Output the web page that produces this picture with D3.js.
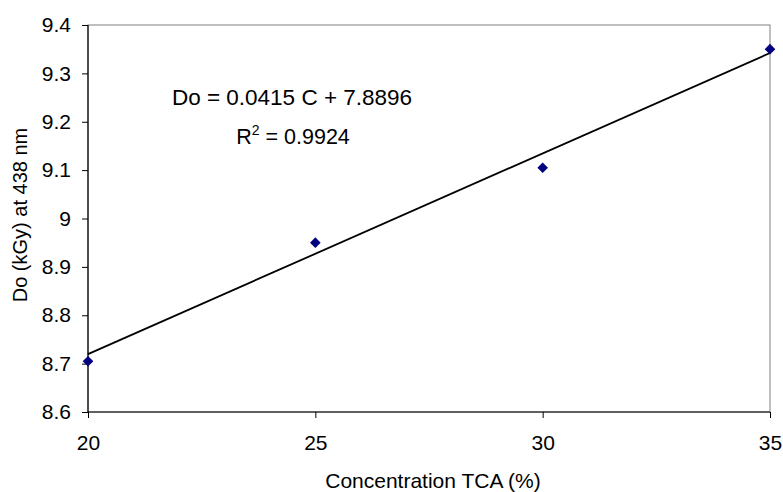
<!DOCTYPE html>
<html>
<head>
<meta charset="utf-8">
<script src="https://cdn.jsdelivr.net/npm/d3@7"></script>
<style>
  body { margin: 0; background: #fff; }
  svg text { font-family: "Liberation Sans", Arial, sans-serif; fill: #000; }
</style>
</head>
<body>
<svg id="chart"></svg>
<script>
// data
const concentration = [20, 25, 30, 35];
const doseValues = [8.705, 8.95, 9.105, 9.35];
const xTicks = [20, 25, 30, 35];
const yTicks = [8.6, 8.7, 8.8, 8.9, 9.0, 9.1, 9.2, 9.3, 9.4];
const slope = 0.0415;
const intercept = 7.8896;

const width = 783;
const height = 492;
const plot = { left: 88, top: 25, right: 770, bottom: 412 };

const svg = d3.select('#chart')
    .attr('width', width)
    .attr('height', height);

const xScale = d3.scaleLinear()
    .domain([20, 35])
    .range([plot.left, plot.right]);

const yScale = d3.scaleLinear()
    .domain([8.6, 9.4])
    .range([plot.bottom, plot.top]);

// plot area border (grey, top + right)
svg.append('rect')
    .attr('x', plot.left)
    .attr('y', plot.top)
    .attr('width', plot.right - plot.left)
    .attr('height', plot.bottom - plot.top)
    .attr('fill', 'none')
    .attr('stroke', '#808080')
    .attr('stroke-width', 1);

// y axis
const yAxis = svg.append('g')
    .attr('transform', `translate(${plot.left},0)`)
    .call(d3.axisLeft(yScale)
        .tickValues(yTicks)
        .tickSize(6)
        .tickPadding(11)
        .tickFormat(d => d3.format('')(+d.toFixed(1))));

// x axis
const xAxis = svg.append('g')
    .attr('transform', `translate(0,${plot.bottom})`)
    .call(d3.axisBottom(xScale)
        .tickValues(xTicks)
        .tickSize(6)
        .tickPadding(17)
        .tickFormat(d3.format('d')));

[yAxis, xAxis].forEach(ax => {
    ax.select('.domain').attr('stroke', '#000').attr('stroke-width', 1.2);
    ax.selectAll('.tick line').attr('stroke', '#000');
    ax.selectAll('.tick text').attr('font-size', 21).attr('fill', '#000')
        .style('font-family', '"Liberation Sans", Arial, sans-serif');
});
xAxis.select('.domain').attr('d', `M${plot.left},0H${plot.right}`);
yAxis.select('.domain').attr('d', `M0,${plot.top}V${plot.bottom}`);

// trend line
const xs = d3.extent(concentration);
svg.append('line')
    .attr('x1', xScale(xs[0]))
    .attr('y1', yScale(slope * xs[0] + intercept))
    .attr('x2', xScale(xs[1]))
    .attr('y2', yScale(slope * xs[1] + intercept))
    .attr('stroke', '#000')
    .attr('stroke-width', 1.8);

// markers
svg.selectAll('.pt')
    .data(concentration)
    .enter()
    .append('path')
    .attr('class', 'pt')
    .attr('d', d3.symbol().type(d3.symbolDiamond2).size(72))
    .attr('transform', (d, i) => `translate(${xScale(d)},${yScale(doseValues[i])})`)
    .attr('fill', '#000080');

// equation label
svg.append('text')
    .attr('x', 292)
    .attr('y', 105)
    .attr('text-anchor', 'middle')
    .attr('font-size', 22.5)
    .text(`Do = ${slope} C + ${intercept}`);

const r2 = svg.append('text')
    .attr('x', 293)
    .attr('y', 144)
    .attr('text-anchor', 'middle')
    .attr('font-size', 21.5);
r2.append('tspan').text('R');
r2.append('tspan').attr('dy', -9).attr('font-size', 14).text('2');
r2.append('tspan').attr('dy', 9).text(' = 0.9924');

// axis titles
svg.append('text')
    .attr('x', 433)
    .attr('y', 488)
    .attr('text-anchor', 'middle')
    .attr('font-size', 21)
    .text('Concentration TCA (%)');

svg.append('text')
    .attr('transform', `translate(27,215) rotate(-90)`)
    .attr('text-anchor', 'middle')
    .attr('font-size', 20)
    .text('Do (kGy) at 438 nm');
</script>
</body>
</html>
